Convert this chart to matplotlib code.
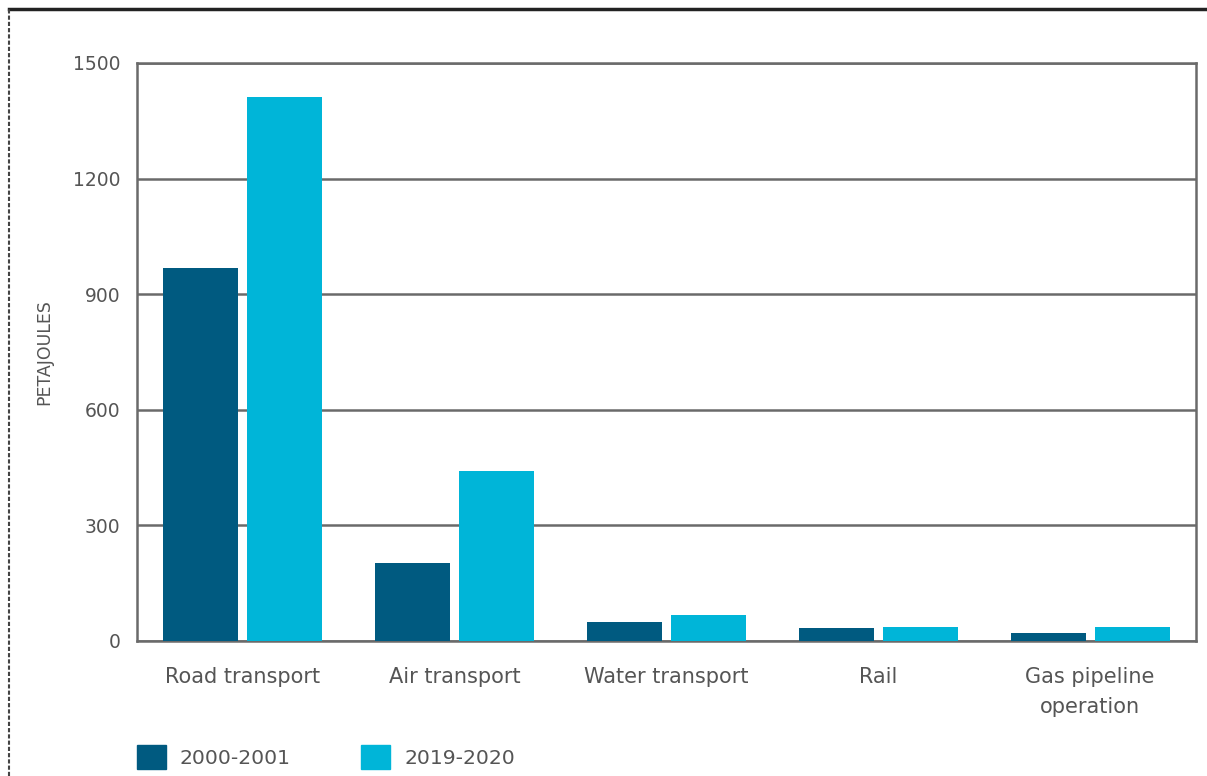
import matplotlib.pyplot as plt
import matplotlib.patches as mpatches
import numpy as np

plt.rcParams['font.family'] = ['DejaVu Sans']

categories = ['Road transport', 'Air transport', 'Water transport', 'Rail', 'Gas pipeline\noperation']
v_2000 = [968, 202, 49, 34, 21]
v_2019 = [1412, 441, 67, 36, 36]
series = ['2000-2001', '2019-2020']
colors = ['#005a80', '#00b5d8']
grey = '#555555'

fig = plt.figure(figsize=(12.07, 7.76), dpi=100)
ax = fig.add_axes([137 / 1207, 1 - 641 / 776, (1196 - 137) / 1207, (641 - 63) / 776])

x = np.arange(len(categories))
w = 0.354
off = 0.198
ax.bar(x - off, v_2000, w, color=colors[0], zorder=3)
ax.bar(x + off, v_2019, w, color=colors[1], zorder=3)

ax.set_xlim(-0.5, len(categories) - 0.5)
ax.set_ylim(0, 1500)
ax.set_yticks(range(0, 1501, 300))
ax.yaxis.grid(True, color='#6a6a6a', linewidth=1.8, zorder=0)
for s in ax.spines.values():
    s.set_color('#6a6a6a')
    s.set_linewidth(1.8)
ax.tick_params(axis='both', length=0, labelcolor=grey)
ax.tick_params(axis='y', pad=12, labelsize=13.5)
ax.tick_params(axis='x', pad=19, labelsize=15)
ax.set_xticks(x)
ax.set_xticklabels(categories, linespacing=1.6)
ax.set_ylabel('PETAJOULES', fontsize=12.5, color=grey, labelpad=14)

handles = [mpatches.Patch(color=c, label=l) for c, l in zip(colors, series)]
fig.legend(handles=handles, loc='lower left', bbox_to_anchor=(137 / 1207, 7 / 776), ncol=2,
           frameon=False, fontsize=14.7, labelcolor=grey, handlelength=1.4, handleheight=1.4,
           handletextpad=0.7, columnspacing=3.45, borderpad=0, borderaxespad=0)

# outer frame (top and left edges visible in reference)
fig.add_artist(plt.Line2D([9 / 1207, 1], [1 - 9 / 776, 1 - 9 / 776], color='#222222', linewidth=2.5,
                          transform=fig.transFigure))
fig.add_artist(plt.Line2D([9 / 1207, 9 / 1207], [0, 1 - 9 / 776], color='#444444', linewidth=1.5,
                          linestyle=(0, (2, 1)), transform=fig.transFigure))

fig.savefig('out.png', dpi=100)
